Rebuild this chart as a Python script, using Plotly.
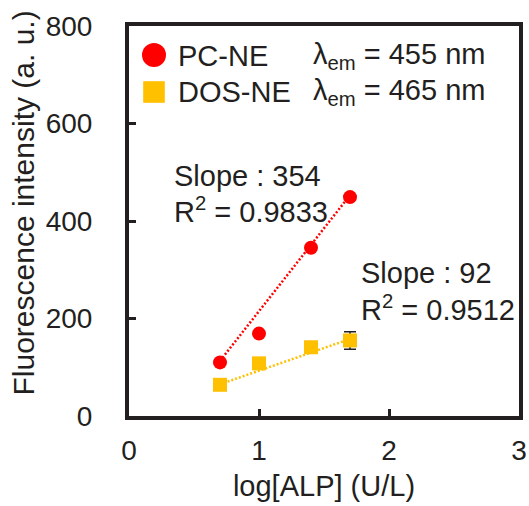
import plotly.graph_objects as go

# ---- data ----
log_alp = [0.7, 1.0, 1.4, 1.7]
pc_ne = [110, 169, 345, 449]
dos_ne = [64, 108, 141, 155]
dos_err = [0, 0, 0, 18]

trend_x = [0.7, 1.7]
pc_trend = [113, 453]
dos_trend = [65, 158]

x_ticks = [0, 1, 2, 3]
y_ticks = [0, 200, 400, 600, 800]

RED = "#ff0000"
GOLD = "#ffc000"
INK = "#231f20"
FONT = "Liberation Sans, Arial, sans-serif"

fig = go.Figure()

fig.add_trace(go.Scatter(x=trend_x, y=pc_trend, mode="lines",
                         line=dict(color=RED, width=2.5, dash="2px,2px"),
                         showlegend=False, hoverinfo="skip"))
fig.add_trace(go.Scatter(x=trend_x, y=dos_trend, mode="lines",
                         line=dict(color=GOLD, width=2.5, dash="2px,2px"),
                         showlegend=False, hoverinfo="skip"))
fig.add_trace(go.Scatter(x=log_alp, y=pc_ne, mode="markers", name="PC-NE",
                         marker=dict(symbol="circle", size=14, color=RED),
                         showlegend=False))
fig.add_trace(go.Scatter(x=log_alp, y=dos_ne, mode="markers", name="DOS-NE",
                         marker=dict(symbol="square", size=14, color=GOLD),
                         error_y=dict(type="data", array=dos_err, visible=True,
                                      color=INK, thickness=1.5, width=6),
                         showlegend=False))

L, T, W, H = 129, 26, 390, 390


def px(xp):
    return (xp - L) / W


def py(yp):
    return (T + H - yp) / H


txt = dict(family=FONT, size=29, color=INK)
ann = []
for text, xp, yp in [
    ("Slope : 354", 173, 176),
    ("R<sup>2</sup> = 0.9833", 173, 210),
    ("Slope : 92", 359.7, 272.5),
    ("R<sup>2</sup> = 0.9512", 359.7, 308),
    ("PC-NE", 177, 56),
    ("DOS-NE", 177, 91.7),
    ("λ<sub>em</sub> = 455 nm", 311.7, 56),
    ("λ<sub>em</sub> = 465 nm", 311.7, 91.7),
]:
    ann.append(dict(text=text, x=px(xp), y=py(yp), xref="paper", yref="paper",
                    xanchor="left", yanchor="middle", showarrow=False,
                    font=txt, borderpad=0))

ann.append(dict(text="Fluorescence intensity (a. u.)", x=px(23), y=py(203.5),
                xref="paper", yref="paper", xanchor="center", yanchor="middle",
                textangle=-90, showarrow=False,
                font=dict(family=FONT, size=30, color=INK)))

shapes = [
    dict(type="circle", xref="paper", yref="paper", xsizemode="pixel",
         ysizemode="pixel", xanchor=px(154), yanchor=py(55),
         x0=-12, x1=12, y0=-12, y1=12, fillcolor=RED, line=dict(width=0)),
    dict(type="rect", xref="paper", yref="paper", xsizemode="pixel",
         ysizemode="pixel", xanchor=px(154), yanchor=py(92),
         x0=-10.8, x1=10.8, y0=-10.8, y1=10.8, fillcolor=GOLD, line=dict(width=0)),
]

axis_common = dict(showline=True, mirror=True, linewidth=4, linecolor=INK,
                   ticks="inside", ticklen=7, tickwidth=3, tickcolor=INK,
                   showgrid=False, zeroline=False, automargin=False,
                   tickfont=dict(family=FONT, size=28, color=INK))

fig.update_layout(
    width=529, height=506,
    margin=dict(l=L, r=529 - L - W, t=T, b=506 - T - H),
    paper_bgcolor="white", plot_bgcolor="white",
    showlegend=False,
    xaxis=dict(range=[0, 3], tickvals=x_ticks, ticktext=[str(v) for v in x_ticks],
               ticklabelstandoff=6,
               title=dict(text="log[ALP] (U/L)", standoff=12,
                          font=dict(family=FONT, size=29, color=INK)),
               **axis_common),
    yaxis=dict(range=[0, 800], tickvals=y_ticks, ticktext=[str(v) for v in y_ticks],
               ticklabelstandoff=27, **axis_common),
    annotations=ann,
    shapes=shapes,
)

fig.write_html(
    "out.html",
    config={"displayModeBar": False},
    post_script="document.body.style.margin='0';document.body.style.overflow='hidden';",
)
